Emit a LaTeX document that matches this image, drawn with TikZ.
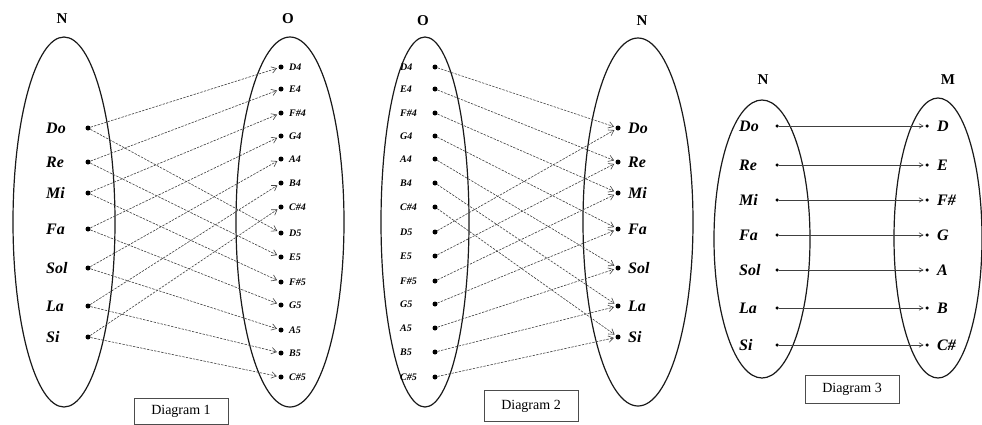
\documentclass[tikz,border=0pt]{standalone}
\usepackage{fontspec}
\setmainfont{Liberation Serif}
\usetikzlibrary{arrows.meta}
\tikzset{
  ell/.style={draw=black!90, line width=1.2pt},
  setlbl/.style={font=\fontsize{15}{15}\selectfont\bfseries, inner sep=0pt},
  big/.style={font=\fontsize{16}{16}\selectfont\bfseries\itshape, inner sep=0pt, anchor=west},
  small/.style={font=\fontsize{10}{10}\selectfont\bfseries\itshape, inner sep=0pt, anchor=west},
  dot/.style={circle, fill=black, inner sep=0pt, minimum size=5pt},
  arr/.style={draw=black!75, line width=0.6pt, dash pattern=on 2.4pt off 1.2pt,
    -{Straight Barb[length=5pt,width=6.5pt]}, shorten >=1.5pt},
  arrs/.style={draw=black!75, line width=0.6pt,
    -{Straight Barb[length=4pt,width=4.5pt]}, shorten >=1.5pt},
  capbox/.style={draw=black!70, line width=0.6pt, font=\fontsize{14}{14}\selectfont,
    minimum width=94pt, inner sep=0pt}
}
\begin{document}
\begin{tikzpicture}[x=1pt,y=-1pt]
\useasboundingbox (0,0) rectangle (982,424);
\def\solf{Do,Re,Mi,Fa,Sol,La,Si}
\def\notes{D4,E4,F\#4,G4,A4,B4,C\#4,D5,E5,F\#5,G5,A5,B5,C\#5}
% ---------------- Diagram 1 ----------------
\draw[ell] (64,222) ellipse (51 and 185);
\draw[ell] (290,222) ellipse (54 and 185);
\node[setlbl] (n1) at (62,19) {N};
\node[setlbl] (o1) at (288,19) {O};
\foreach \t [count=\i] in \solf {
  \pgfmathsetmacro{\yy}{{128,162,193,229,268,306,337}[\i-1]}
  \node[big] (al\i) at (46,\yy) {\t};
  \node[dot] (ad\i) at (88,\yy) {};
}
\foreach \t [count=\i] in \notes {
  \pgfmathsetmacro{\yy}{{67,89,113,136,159,183,207,233,257,282,305,330,353,377}[\i-1]}
  \node[dot] (bd\i) at (281,\yy) {};
  \node[small] (bl\i) at (289,\yy) {\t};
}
\foreach \i in {1,...,7} {
  \pgfmathtruncatemacro{\j}{\i+7}
  \draw[arr] (ad\i) -- (bd\i);
  \draw[arr] (ad\i) -- (bd\j);
}
\node[capbox, minimum height=26pt] (c1) at (181,411) {Diagram 1};
% ---------------- Diagram 2 ----------------
\draw[ell] (425,222) ellipse (44 and 185);
\draw[ell] (638,222) ellipse (55 and 184);
\node[setlbl] (o2) at (423,21) {O};
\node[setlbl] (n2) at (642,21) {N};
\foreach \t [count=\i] in \notes {
  \pgfmathsetmacro{\yy}{{67,89,113,136,159,183,207,232,256,281,304,328,352,377}[\i-1]}
  \node[small] (cl\i) at (400,\yy) {\t};
  \node[dot] (cd\i) at (435,\yy) {};
}
\foreach \t [count=\i] in \solf {
  \pgfmathsetmacro{\yy}{{128,162,193,229,268,306,337}[\i-1]}
  \node[dot] (dd\i) at (618,\yy) {};
  \node[big] (dl\i) at (628,\yy) {\t};
}
\foreach \i in {1,...,7} {
  \pgfmathtruncatemacro{\j}{\i+7}
  \draw[arr] (cd\i) -- (dd\i);
  \draw[arr] (cd\j) -- (dd\i);
}
\node[capbox, minimum height=31pt] (c2) at (531,406) {Diagram 2};
% ---------------- Diagram 3 ----------------
\draw[ell] (762,239) ellipse (48 and 139);
\draw[ell] (938,238) ellipse (44 and 140);
\node[setlbl] (n3) at (763,80) {N};
\node[setlbl] (m3) at (948,80) {M};
\def\maj{D,E,F\#,G,A,B,C\#}
\foreach \t [count=\i] in \solf {
  \pgfmathsetmacro{\yy}{{126,165,200,235,270,308,345}[\i-1]}
  \node[big] (el\i) at (739,\yy) {\t};
  \node[dot, minimum size=3.5pt] (ed\i) at (777,\yy) {};
}
\foreach \t [count=\i] in \maj {
  \pgfmathsetmacro{\yy}{{126,165,200,235,270,308,345}[\i-1]}
  \node[dot, minimum size=3.5pt] (fd\i) at (927,\yy) {};
  \node[big] (fl\i) at (937,\yy) {\t};
}
\foreach \i in {1,...,7} {
  \draw[arrs] (ed\i) -- (fd\i);
}
\node[capbox, minimum height=28pt] (c3) at (852,389) {Diagram 3};
\end{tikzpicture}
\end{document}
